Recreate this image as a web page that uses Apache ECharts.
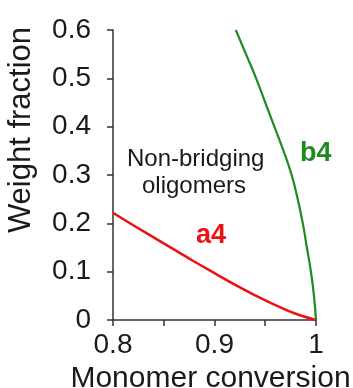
<!DOCTYPE html>
<html>
<head>
<meta charset="utf-8">
<script src="https://cdn.jsdelivr.net/npm/echarts@6/dist/echarts.min.js"></script>
<style>html,body{margin:0;padding:0;background:#fff;}#c{width:353px;height:388px;}</style>
</head>
<body>
<div id="c"></div>
<script>
var a4Conversion = [0.80, 0.82, 0.84, 0.86, 0.88, 0.90, 0.92, 0.94, 0.96, 0.98, 1.00];
var a4Fraction   = [0.222, 0.196, 0.171, 0.146, 0.121, 0.097, 0.073, 0.051, 0.031, 0.013, 0.0];
var b4Conversion = [0.921, 0.931, 0.941, 0.950, 0.959, 0.968, 0.976, 0.982, 0.987, 0.991, 0.995, 0.998, 1.00];
var b4Fraction   = [0.60, 0.55, 0.50, 0.45, 0.40, 0.35, 0.30, 0.25, 0.20, 0.15, 0.10, 0.05, 0.0];
var xTickLabels = ['0.8', '0.9', '1'];
var yTickLabels = ['0', '0.1', '0.2', '0.3', '0.4', '0.5', '0.6'];

function pairs(xs, ys) { return xs.map(function (x, i) { return [x, ys[i]]; }); }

var font = 'Liberation Sans, Arial, sans-serif';
var chart = echarts.init(document.getElementById('c'));
chart.setOption({
  animation: false,
  backgroundColor: '#fff',
  grid: { left: 113, right: 37, top: 30, bottom: 68, containLabel: false, outerBoundsMode: 'none' },
  xAxis: {
    type: 'value', min: 0.8, max: 1.0, interval: 0.05,
    name: 'Monomer conversion', nameLocation: 'middle', nameGap: 38,
    nameTextStyle: { fontFamily: font, fontSize: 30, color: '#1a1a1a', padding: [0, 8, 0, 0] },
    axisLine: { show: true, lineStyle: { color: '#333', width: 1.5 } },
    axisTick: { show: true, length: 6, lineStyle: { color: '#333', width: 1.5 } },
    splitLine: { show: false },
    axisLabel: {
      fontFamily: font, fontSize: 28, color: '#1a1a1a', margin: 11,
      formatter: function (v) {
        var k = Math.round(v * 100);
        if (k % 10 !== 0) return '';
        var idx = (k - 80) / 10;
        return xTickLabels[idx] || '';
      }
    }
  },
  yAxis: {
    type: 'value', min: 0, max: 0.6, interval: 0.1,
    name: 'Weight fraction', nameLocation: 'middle', nameRotate: 90, nameGap: 76,
    nameTextStyle: { fontFamily: font, fontSize: 31, color: '#1a1a1a', padding: [0, 0, 0, 90] },
    axisLine: { show: true, lineStyle: { color: '#333', width: 1.5 } },
    axisTick: { show: true, length: 6, lineStyle: { color: '#333', width: 1.5 } },
    splitLine: { show: false },
    axisLabel: {
      fontFamily: font, fontSize: 28, color: '#1a1a1a', margin: 22,
      formatter: function (v) { return yTickLabels[Math.round(v * 10)]; }
    }
  },
  series: [
    { name: 'a4', type: 'line', data: pairs(a4Conversion, a4Fraction), smooth: 0.4,
      showSymbol: false, lineStyle: { color: '#ee1111', width: 2.5 } },
    { name: 'b4', type: 'line', data: pairs(b4Conversion, b4Fraction), smooth: 0.5,
      showSymbol: false, lineStyle: { color: '#1f8a1f', width: 2.2 } }
  ],
  graphic: [
    { type: 'text', left: 127, top: 147,
      style: { text: 'Non-bridging', font: '24px ' + font, fill: '#1a1a1a' } },
    { type: 'text', left: 142, top: 174,
      style: { text: 'oligomers', font: '24px ' + font, fill: '#1a1a1a' } },
    { type: 'text', left: 196, top: 222,
      style: { text: 'a4', font: 'bold 27px ' + font, fill: '#ee1111' } },
    { type: 'text', left: 300, top: 140,
      style: { text: 'b4', font: 'bold 27px ' + font, fill: '#1f8a1f' } }
  ]
});
</script>
</body>
</html>
